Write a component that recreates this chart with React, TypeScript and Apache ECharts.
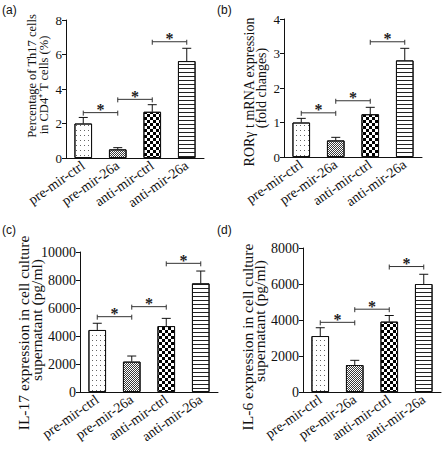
import React, { useEffect, useRef } from 'react';
import * as echarts from 'echarts';

const categories = ['pre-mir-ctrl', 'pre-mir-26a', 'anti-mir-ctrl', 'anti-mir-26a'];

const th17Mean = [2.0, 0.5, 2.68, 5.62];
const th17Err = [0.35, 0.1, 0.41, 0.74];
const th17Sig = [[0, 1, 2.63], [1, 2, 3.4], [2, 3, 6.74]];

const rorMean = [1.0, 0.48, 1.24, 2.8];
const rorErr = [0.12, 0.09, 0.2, 0.35];
const rorSig = [[0, 1, 1.28], [1, 2, 1.63], [2, 3, 3.34]];

const il17Mean = [4430, 2170, 4710, 7760];
const il17Err = [480, 400, 550, 880];
const il17Sig = [[0, 1, 5380], [1, 2, 6095], [2, 3, 9190]];

const il6Mean = [3110, 1500, 3910, 6000];
const il6Err = [460, 260, 340, 540];
const il6Sig = [[0, 1, 3870], [1, 2, 4600], [2, 3, 6970]];

const SERIF = '"Liberation Serif", "Times New Roman", serif';
const SANS = '"Liberation Sans", Arial, sans-serif';

const decals: any[] = [
  { symbol: 'rect', symbolSize: 1, symbolKeepAspect: false, color: '#666', dashArrayX: [1, 3], dashArrayY: [1, 4] },
  { symbol: 'rect', symbolSize: 1, symbolKeepAspect: false, color: '#3a3a3a', backgroundColor: '#c8c8c8', dashArrayX: [[1, 1], [0, 1, 1, 0]], dashArrayY: [1, 0] },
  { symbol: 'rect', symbolSize: 1, symbolKeepAspect: false, color: '#000', backgroundColor: '#fff', dashArrayX: [[3, 3], [0, 3, 3, 0]], dashArrayY: [3, 0] },
  { symbol: 'rect', symbolSize: 1, symbolKeepAspect: false, color: '#222', backgroundColor: '#fff', dashArrayX: [5, 0], dashArrayY: [1, 3] },
];

const panels = [
  { grid: { left: 66, top: 20, width: 138, height: 138 }, max: 8, interval: 2, mean: th17Mean, err: th17Err, sig: th17Sig, fs: 13, xfs: 14 },
  { grid: { left: 284, top: 19, width: 138, height: 138 }, max: 4, interval: 1, mean: rorMean, err: rorErr, sig: rorSig, fs: 13, xfs: 14 },
  { grid: { left: 80, top: 252, width: 138, height: 140 }, max: 10000, interval: 2000, mean: il17Mean, err: il17Err, sig: il17Sig, fs: 14, xfs: 14 },
  { grid: { left: 303, top: 248, width: 138, height: 144 }, max: 8000, interval: 2000, mean: il6Mean, err: il6Err, sig: il6Sig, fs: 14, xfs: 14 },
];

const titles = [
  { x: 32, y: 76, size: 12.5, text: 'Percentage of Th17 cells' },
  { x: 44, y: 85, size: 12.5, text: 'in CD4⁺ T cells (%)' },
  { x: 249, y: 92, size: 14, text: 'RORγ t mRNA expression' },
  { x: 261, y: 88, size: 14, text: '(fold changes)' },
  { x: 23, y: 333, size: 15.5, text: 'IL-17 expression in cell culture' },
  { x: 36, y: 320, size: 15.5, text: 'supernatant (pg/ml)' },
  { x: 247, y: 337, size: 15.5, text: 'IL-6 expression in cell culture' },
  { x: 259, y: 321, size: 15.5, text: 'supernatant (pg/ml)' },
];

const panelLabels = [
  { x: 2, y: 4, text: '(a)' },
  { x: 217, y: 4, text: '(b)' },
  { x: 2, y: 224, text: '(c)' },
  { x: 217, y: 224, text: '(d)' },
];

function buildOption() {
  const grid: any[] = [];
  const xAxis: any[] = [];
  const yAxis: any[] = [];
  const series: any[] = [];
  panels.forEach((p, i) => {
    grid.push({ ...p.grid, containLabel: false });
    xAxis.push({
      type: 'category',
      gridIndex: i,
      data: categories,
      axisLine: { lineStyle: { color: '#111', width: 1 } },
      axisTick: { alignWithLabel: true, length: 4, lineStyle: { color: '#111' } },
      axisLabel: { interval: 0, rotate: 35, fontFamily: SERIF, fontSize: p.xfs, color: '#111', margin: 6 },
    });
    yAxis.push({
      type: 'value',
      gridIndex: i,
      min: 0,
      max: p.max,
      interval: p.interval,
      splitLine: { show: false },
      axisLine: { show: true, lineStyle: { color: '#111', width: 1 } },
      axisTick: { show: true, length: 4, lineStyle: { color: '#111' } },
      axisLabel: { fontFamily: SERIF, fontSize: p.fs, color: '#111', margin: 4, formatter: (v: number) => String(v) },
    });
    series.push({
      type: 'bar',
      xAxisIndex: i,
      yAxisIndex: i,
      barWidth: '51%',
      data: p.mean.map((v, k) => ({
        value: v,
        itemStyle: { color: '#fff', borderColor: '#111', borderWidth: 1, decal: decals[k] },
      })),
    });
    series.push({
      type: 'custom',
      xAxisIndex: i,
      yAxisIndex: i,
      encode: { x: 0, y: 1 },
      data: p.mean.map((v, k) => [k, v, p.err[k]]),
      renderItem: (params: any, api: any) => {
        const c = api.value(0);
        const m = api.value(1);
        const e = api.value(2);
        const b = api.coord([c, m]);
        const t = api.coord([c, m + e]);
        const hw = 4.5;
        const st = { stroke: '#111', lineWidth: 1 };
        return {
          type: 'group',
          children: [
            { type: 'line', shape: { x1: b[0], y1: b[1], x2: t[0], y2: t[1] }, style: st },
            { type: 'line', shape: { x1: t[0] - hw, y1: t[1], x2: t[0] + hw, y2: t[1] }, style: st },
          ],
        };
      },
      z: 3,
    });
    series.push({
      type: 'custom',
      xAxisIndex: i,
      yAxisIndex: i,
      encode: { x: [0, 1], y: 2 },
      data: p.sig,
      renderItem: (params: any, api: any) => {
        const a = api.coord([api.value(0), api.value(2)]);
        const b = api.coord([api.value(1), api.value(2)]);
        const st = { stroke: '#333', lineWidth: 1 };
        return {
          type: 'group',
          children: [
            { type: 'line', shape: { x1: a[0], y1: a[1], x2: b[0], y2: b[1] }, style: st },
            { type: 'line', shape: { x1: a[0], y1: a[1] - 2, x2: a[0], y2: a[1] + 3 }, style: st },
            { type: 'line', shape: { x1: b[0], y1: b[1] - 2, x2: b[0], y2: b[1] + 3 }, style: st },
            {
              type: 'text',
              x: (a[0] + b[0]) / 2,
              y: a[1] - 3,
              style: { text: '*', font: `bold 16px ${SERIF}`, fill: '#222', align: 'center', verticalAlign: 'middle' },
            },
          ],
        };
      },
      z: 4,
    });
  });

  const graphic: any[] = [];
  titles.forEach((t) => {
    graphic.push({
      type: 'text',
      x: t.x,
      y: t.y,
      rotation: Math.PI / 2,
      style: { text: t.text, font: `${t.size}px ${SERIF}`, fill: '#111', align: 'center', verticalAlign: 'middle' },
    });
  });
  panelLabels.forEach((l) => {
    graphic.push({
      type: 'text',
      x: l.x,
      y: l.y,
      style: { text: l.text, font: `12px ${SANS}`, fill: '#111', align: 'left', verticalAlign: 'top' },
    });
  });

  return {
    animation: false,
    backgroundColor: '#fff',
    grid,
    xAxis,
    yAxis,
    series,
    graphic,
  };
}

export default function App() {
  const ref = useRef<HTMLDivElement>(null);
  useEffect(() => {
    if (!ref.current) return;
    const chart = echarts.init(ref.current, undefined, { renderer: 'svg' });
    chart.setOption(buildOption() as any);
    return () => chart.dispose();
  }, []);
  return (
    <div
      ref={ref}
      style={{ position: 'fixed', left: 0, top: 0, width: 443, height: 452, background: '#fff' }}
    />
  );
}
